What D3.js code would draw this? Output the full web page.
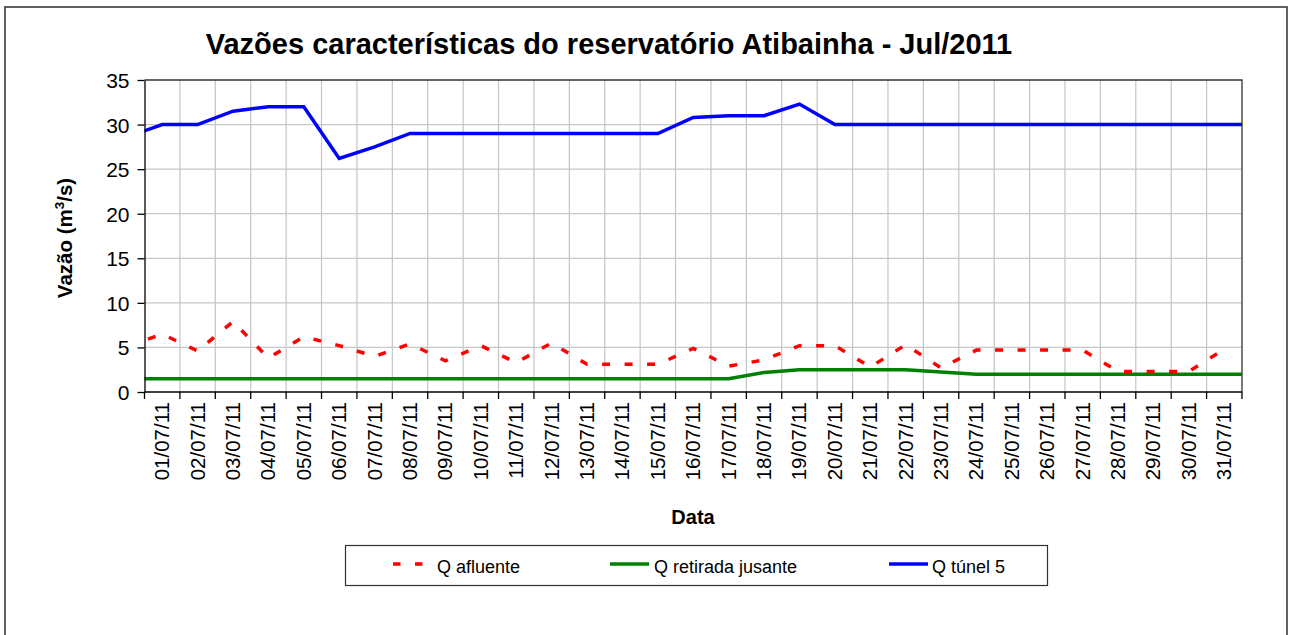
<!DOCTYPE html>
<html>
<head>
<meta charset="utf-8">
<script src="https://cdn.jsdelivr.net/npm/d3@7"></script>
<style>
  html, body { margin: 0; padding: 0; background: #fff; }
  svg { display: block; }
  text { font-family: "Liberation Sans", Arial, sans-serif; fill: #000; }
</style>
</head>
<body>
<svg id="chart" width="1292" height="635"></svg>
<script>
// ---- data ----
const days = ["01/07/11","02/07/11","03/07/11","04/07/11","05/07/11","06/07/11","07/07/11","08/07/11",
  "09/07/11","10/07/11","11/07/11","12/07/11","13/07/11","14/07/11","15/07/11","16/07/11",
  "17/07/11","18/07/11","19/07/11","20/07/11","21/07/11","22/07/11","23/07/11","24/07/11",
  "25/07/11","26/07/11","27/07/11","28/07/11","29/07/11","30/07/11","31/07/11"];
const prevDay = "30/06/11";
const nextDay = "01/08/11";

const qAfluente = [6.5, 4.6, 7.9, 3.8, 6.2, 5.2, 4.0, 5.4, 3.5, 5.2, 3.3, 5.5, 3.1, 3.1, 3.1, 4.9,
  2.9, 3.6, 5.2, 5.2, 2.8, 5.3, 2.7, 4.7, 4.7, 4.7, 4.7, 2.3, 2.3, 2.3, 4.8];
const qRetirada = [1.5, 1.5, 1.5, 1.5, 1.5, 1.5, 1.5, 1.5, 1.5, 1.5, 1.5, 1.5, 1.5, 1.5, 1.5, 1.5,
  1.5, 2.2, 2.5, 2.5, 2.5, 2.5, 2.25, 2.0, 2.0, 2.0, 2.0, 2.0, 2.0, 2.0, 2.0];
const qTunel = [30, 30, 31.5, 32, 32, 26.2, 27.5, 29, 29, 29, 29, 29, 29, 29, 29, 30.8,
  31, 31, 32.3, 30, 30, 30, 30, 30, 30, 30, 30, 30, 30, 30, 30];
// values on the neighbouring days (line continues to the plot edge)
const prevValues = { afluente: 5.1, retirada: 1.5, tunel: 28.6 };
const nextValues = { afluente: null, retirada: 2.0, tunel: 30 };

const yTicks = [0, 5, 10, 15, 20, 25, 30, 35];
const seriesNames = ["Q afluente", "Q retirada jusante", "Q túnel 5"];

// ---- layout ----
const svg = d3.select("#chart");
const L = 144.5, R = 1242, T = 80, B = 392;
const bw = (R - L) / days.length;
const allDays = [prevDay, ...days, nextDay];

const x = d3.scaleBand().domain(allDays).range([L - bw, R + bw]).padding(0);
const xc = d => x(d) + x.bandwidth() / 2;
const y = d3.scaleLinear().domain([0, 35]).range([B, T]);

// outer frame
svg.append("rect").attr("x", 5).attr("y", 7).attr("width", 1282).attr("height", 640)
  .attr("fill", "none").attr("stroke", "#3a3a3a").attr("stroke-width", 1.6);

// title
svg.append("text").attr("x", 609).attr("y", 54).attr("text-anchor", "middle")
  .style("font-size", "29px").style("font-weight", "bold")
  .text("Vazões características do reservatório Atibainha - Jul/2011");

// grid
const grid = svg.append("g");
grid.selectAll("line.h").data(yTicks.filter(v => v > 0 && v < 35)).enter().append("line")
  .attr("x1", L).attr("x2", R).attr("y1", d => y(d)).attr("y2", d => y(d))
  .attr("stroke", "#c8c8c8").attr("stroke-width", 1.2);
grid.selectAll("line.v").data(days.slice(1)).enter().append("line")
  .attr("x1", d => x(d)).attr("x2", d => x(d)).attr("y1", T).attr("y2", B)
  .attr("stroke", "#c4c4c4").attr("stroke-width", 1.2);

// plot border (top/right)
svg.append("path").attr("d", `M${L},${T}H${R}V${B}`).attr("fill", "none")
  .attr("stroke", "#333").attr("stroke-width", 1.3);

// clip
svg.append("clipPath").attr("id", "plotclip").append("rect")
  .attr("x", L).attr("y", T - 5).attr("width", R - L).attr("height", B - T + 10);

const mk = (arr, key) => [
  { d: prevDay, v: prevValues[key] },
  ...days.map((d, i) => ({ d, v: arr[i] })),
  { d: nextDay, v: nextValues[key] }
];
const line = d3.line().defined(p => p.v != null).x(p => xc(p.d)).y(p => y(p.v));

const lines = svg.append("g").attr("clip-path", "url(#plotclip)");
lines.append("path").datum(mk(qRetirada, "retirada")).attr("d", line)
  .attr("fill", "none").attr("stroke", "#008000").attr("stroke-width", 3.5);
lines.append("path").datum(mk(qTunel, "tunel")).attr("d", line)
  .attr("fill", "none").attr("stroke", "#0000ff").attr("stroke-width", 3.5);
lines.append("path").datum(mk(qAfluente, "afluente")).attr("d", line)
  .attr("fill", "none").attr("stroke", "#ff0000").attr("stroke-width", 3.5)
  .attr("stroke-dasharray", "8,14.5");

// y axis
const yAxis = svg.append("g").attr("transform", `translate(${L},0)`)
  .call(d3.axisLeft(y).tickValues(yTicks).tickSize(7).tickPadding(8).tickSizeOuter(0));
yAxis.selectAll("text").style("font-size", "21px").attr("dy", "0.36em");
yAxis.selectAll("line,path").attr("stroke", "#000").attr("stroke-width", 1.3);

// x axis
const xAxisG = svg.append("g").attr("transform", `translate(0,${B})`);
xAxisG.append("line").attr("x1", L).attr("x2", R).attr("y1", 0).attr("y2", 0)
  .attr("stroke", "#000").attr("stroke-width", 1.5);
xAxisG.selectAll("line.tick").data([...days, nextDay]).enter().append("line")
  .attr("x1", d => x(d)).attr("x2", d => x(d)).attr("y1", 0).attr("y2", 7)
  .attr("stroke", "#000").attr("stroke-width", 1.3);
const xLabels = svg.append("g").attr("transform", `translate(0,${B})`)
  .call(d3.axisBottom(x).tickValues(days).tickSize(0).tickPadding(0));
xLabels.select(".domain").remove();
xLabels.selectAll(".tick text")
  .style("font-size", "20.5px")
  .attr("text-anchor", "end")
  .attr("transform", "translate(7,10) rotate(-90)")
  .attr("x", 0).attr("y", 0).attr("dy", 0);

// axis titles
svg.append("text").attr("x", 693).attr("y", 524).attr("text-anchor", "middle")
  .style("font-size", "20px").style("font-weight", "bold").text("Data");
const yt = svg.append("text").attr("transform", "translate(72,238) rotate(-90)")
  .attr("text-anchor", "middle").style("font-size", "20.5px").style("font-weight", "bold");
yt.append("tspan").text("Vazão (m");
yt.append("tspan").style("font-size", "13.5px").attr("dy", -8).text("3");
yt.append("tspan").attr("dy", 8).text("/s)");

// legend
svg.append("rect").attr("x", 345.5).attr("y", 545.5).attr("width", 702).attr("height", 40)
  .attr("fill", "#fff").attr("stroke", "#333").attr("stroke-width", 1.2);
const legItems = [
  { name: seriesNames[0], color: "#ff0000", dash: "7.5,14.5", x1: 393, x2: 423, tx: 437 },
  { name: seriesNames[1], color: "#008000", dash: null, x1: 610, x2: 649, tx: 654 },
  { name: seriesNames[2], color: "#0000ff", dash: null, x1: 889, x2: 928, tx: 932 }
];
const leg = svg.append("g").selectAll("g").data(legItems).enter().append("g");
leg.append("line").attr("x1", d => d.x1).attr("x2", d => d.x2).attr("y1", 564).attr("y2", 564)
  .attr("stroke", d => d.color).attr("stroke-width", 3.5)
  .attr("stroke-dasharray", d => d.dash);
leg.append("text").attr("x", d => d.tx).attr("y", 573).style("font-size", "18px").text(d => d.name);
</script>
</body>
</html>
